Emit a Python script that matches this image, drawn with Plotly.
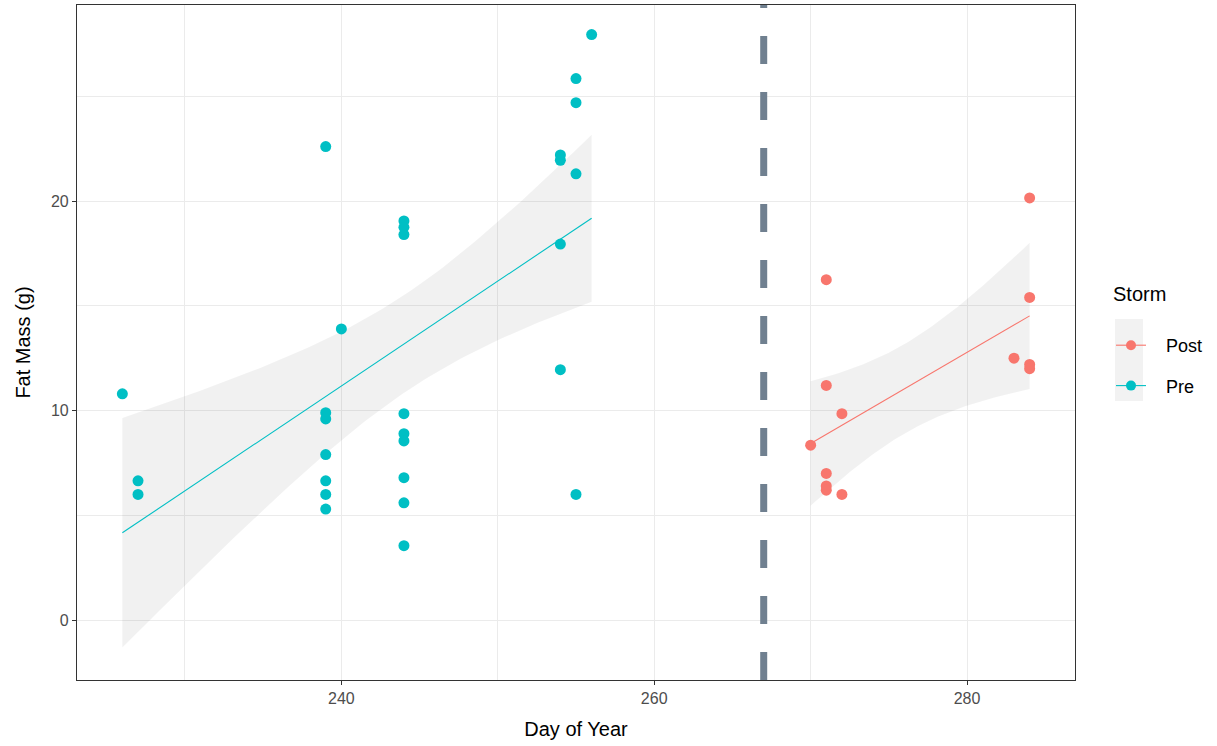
import numpy as np
import plotly.graph_objects as go

# ---- data ----
pre_day = [226, 227, 227,
           239, 239, 239, 239, 239, 239, 239,
           240,
           244, 244, 244, 244, 244, 244, 244, 244, 244,
           254, 254, 254, 254,
           255, 255, 255, 255,
           256]
pre_fat = [10.8, 6.65, 6.0,
           22.6, 9.9, 9.6, 7.9, 6.65, 6.0, 5.3,
           13.9,
           19.05, 18.75, 18.4, 9.85, 8.9, 8.55, 6.8, 5.6, 3.55,
           22.2, 21.95, 17.95, 11.95,
           25.85, 24.7, 21.3, 6.0,
           27.95]

post_day = [270, 271, 271, 271, 271, 271, 272, 272, 283, 284, 284, 284, 284]
post_fat = [8.35, 16.25, 11.2, 7.0, 6.4, 6.2, 9.85, 6.0, 12.5, 20.15, 15.4, 12.2, 12.0]

storm_day = 267
groups = ["Post", "Pre"]
colors = {"Post": "#F8766D", "Pre": "#00BFC4"}
# two-sided 95% t quantiles for df = n - 2
t_quant = {"Post": 2.201, "Pre": 2.052}

x_ticks = [240, 260, 280]
y_ticks = [0, 10, 20]


def lm_ci(x, y, tq, n_out=80):
    x = np.asarray(x, float)
    y = np.asarray(y, float)
    n = len(x)
    b, a = np.polyfit(x, y, 1)
    resid = y - (a + b * x)
    s = np.sqrt(np.sum(resid ** 2) / (n - 2))
    xbar = x.mean()
    sxx = np.sum((x - xbar) ** 2)
    xs = np.linspace(x.min(), x.max(), n_out)
    fit = a + b * xs
    se = s * np.sqrt(1.0 / n + (xs - xbar) ** 2 / sxx)
    return xs, fit, fit - tq * se, fit + tq * se


fig = go.Figure()

data = {"Post": (post_day, post_fat), "Pre": (pre_day, pre_fat)}

# ribbons first
for g in groups:
    xs, fit, lo, hi = lm_ci(*data[g], t_quant[g])
    fig.add_trace(go.Scatter(
        x=np.concatenate([xs, xs[::-1]]), y=np.concatenate([hi, lo[::-1]]),
        fill="toself", fillcolor="rgba(0,0,0,0.055)", line=dict(width=0),
        mode="lines", hoverinfo="skip", showlegend=False))

for g in groups:
    xs, fit, lo, hi = lm_ci(*data[g], t_quant[g])
    fig.add_trace(go.Scatter(x=xs, y=fit, mode="lines",
                             line=dict(color=colors[g], width=1.1),
                             showlegend=False))
    fig.add_trace(go.Scatter(x=data[g][0], y=data[g][1], mode="markers",
                             marker=dict(color=colors[g], size=11),
                             showlegend=False))
    # legend entry
    fig.add_trace(go.Scatter(x=[None], y=[None], mode="lines+markers",
                             name="\u00a0\u00a0\u00a0" + g, legendgroup=g,
                             line=dict(color=colors[g], width=1.1),
                             marker=dict(color=colors[g], size=10)))

fig.add_shape(type="line", xref="x", yref="paper", x0=storm_day, x1=storm_day,
              y0=0, y1=1, line=dict(color="#708090", width=7, dash="28px,28px"))

# legend key background
fig.add_shape(type="rect", xref="paper", yref="paper",
              x0=(1115 - 77) / 998, x1=(1143 - 77) / 998,
              y0=(680 - 401) / 675, y1=(680 - 319) / 675,
              fillcolor="#F2F2F2", line=dict(width=0), layer="below")

axis_common = dict(showline=True, mirror=True, linecolor="#333333", linewidth=1.2,
                   ticks="outside", ticklen=4, tickcolor="#333333", tickwidth=1,
                   gridcolor="#EBEBEB", gridwidth=1, zeroline=False,
                   tickfont=dict(family="Liberation Sans, Arial", size=16, color="#4D4D4D"))

fig.update_layout(
    width=1217, height=746,
    margin=dict(l=77, r=142, t=5, b=66),
    plot_bgcolor="white", paper_bgcolor="white",
    font=dict(family="Liberation Sans, Arial", color="black"),
    xaxis=dict(range=[223.1, 286.9], tickvals=x_ticks,
               minor=dict(dtick=10, tick0=0, showgrid=True, gridcolor="#EBEBEB", gridwidth=1, ticks=""),
               title=dict(text="Day of Year", font=dict(size=20), standoff=15),
               **axis_common),
    yaxis=dict(range=[-2.86, 29.36], tickvals=y_ticks,
               minor=dict(dtick=5, tick0=0, showgrid=True, gridcolor="#EBEBEB", gridwidth=1, ticks=""),
               title=dict(text="Fat Mass (g)", font=dict(size=20), standoff=14),
               **axis_common),
    legend=dict(x=(1111 - 77) / 998, y=(680 - 275) / 675, xanchor="left", yanchor="top",
                title=dict(text="Storm<br> ", font=dict(size=20)),
                font=dict(size=18), itemwidth=30, tracegroupgap=14,
                bgcolor="rgba(0,0,0,0)"),
)

fig.write_html("out.html", config={"displayModeBar": False},
               post_script="document.body.style.margin='0';")
